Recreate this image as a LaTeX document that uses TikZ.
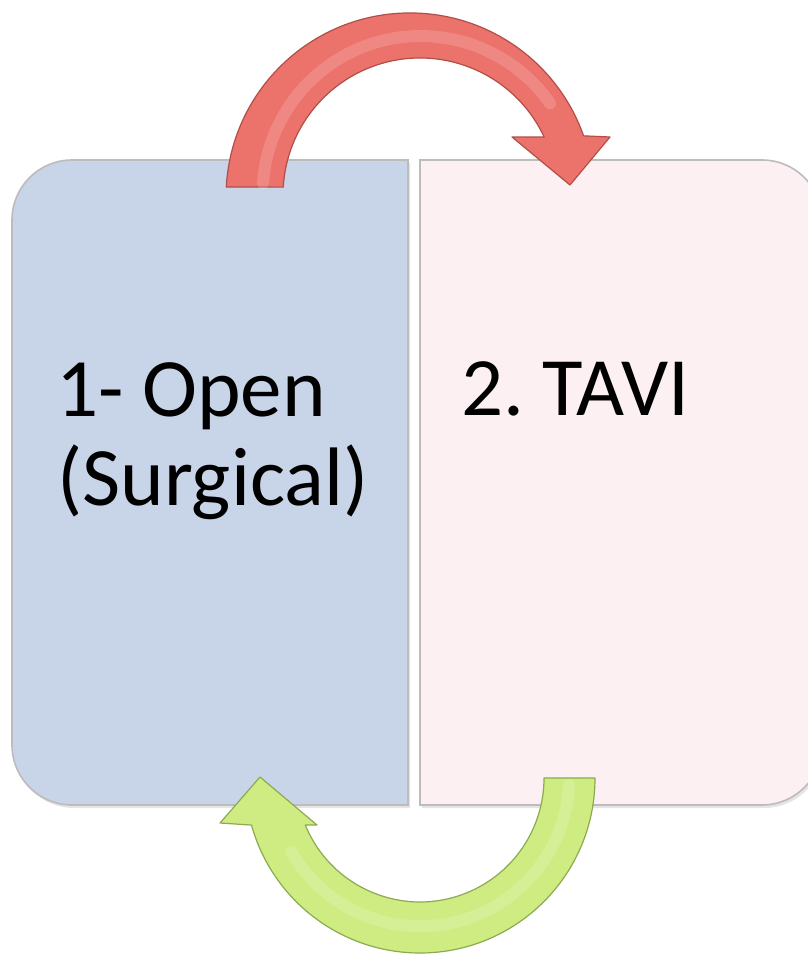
\documentclass[tikz,border=0pt]{standalone}
\usepackage{fontspec}
\setmainfont{Carlito}
\frenchspacing
\definecolor{boxblue}{RGB}{200,212,232}
\definecolor{boxpink}{RGB}{252,240,242}
\definecolor{boxedge}{RGB}{188,188,188}
\definecolor{redfill}{RGB}{236,114,108}
\definecolor{redline}{RGB}{178,78,72}
\definecolor{greenfill}{RGB}{206,236,130}
\definecolor{greenline}{RGB}{140,170,80}
\tikzset{
  panel/.style={draw=boxedge, line width=1.6pt},
  shadowpanel/.style={fill=black, opacity=0.10},
  arrowshape/.style={line width=1.2pt, line join=round},
  glow/.style={line width=12pt, white, opacity=0.16, line cap=round},
  label/.style={inner sep=0pt, anchor=base west, font=\fontsize{83}{89}\selectfont}
}
\begin{document}
\begin{tikzpicture}[x=1pt,y=1pt,yscale=-1]
\useasboundingbox (0,0) rectangle (808,959);
\clip (0,0) rectangle (808,959);
\fill[white] (0,0) rectangle (808,959);

% shadows
\fill[shadowpanel] (410,163) -- (74,163) arc[start angle=270,end angle=180,radius=60] -- (14,748) arc[start angle=180,end angle=90,radius=60] -- (410,808) -- cycle;
\fill[shadowpanel] (422,163) -- (764,163) arc[start angle=270,end angle=360,radius=60] -- (824,748) arc[start angle=0,end angle=90,radius=60] -- (422,808) -- cycle;

% left panel
\path[panel, fill=boxblue] (408,160) -- (72,160) arc[start angle=270,end angle=180,radius=60] -- (12,745) arc[start angle=180,end angle=90,radius=60] -- (408,805) -- cycle;
% right panel
\path[panel, fill=boxpink] (420,160) -- (762,160) arc[start angle=270,end angle=360,radius=60] -- (822,745) arc[start angle=0,end angle=90,radius=60] -- (420,805) -- cycle;

\node[label] (open) at (56,416) {1- Open};
\node[label] (surg) at (57,505) {(Surgical)};
\node[label] (tavi) at (461,415) {2. TAVI};

% red arrow (top)
\path[arrowshape, fill=redfill, draw=redline]
  (226.3,187) arc[start angle=183.1,end angle=340.6,radius=184]
  -- (610,137) -- (570,185) -- (512,137) -- (544.2,137.1)
  arc[start angle=335,end angle=183.3,radius=137] -- cycle;
\draw[glow] (263,183) arc[start angle=184,end angle=325,radius=158];

% green arrow (bottom)
\path[arrowshape, fill=greenfill, draw=greenline]
  (595,778) arc[start angle=0,end angle=164.4,radius=175]
  -- (220,823) -- (260,777) -- (317,825) -- (305.3,825)
  arc[start angle=157.7,end angle=0,radius=124] -- cycle;
\draw[glow] (569,785) arc[start angle=3,end angle=150,radius=149];
\end{tikzpicture}
\end{document}
